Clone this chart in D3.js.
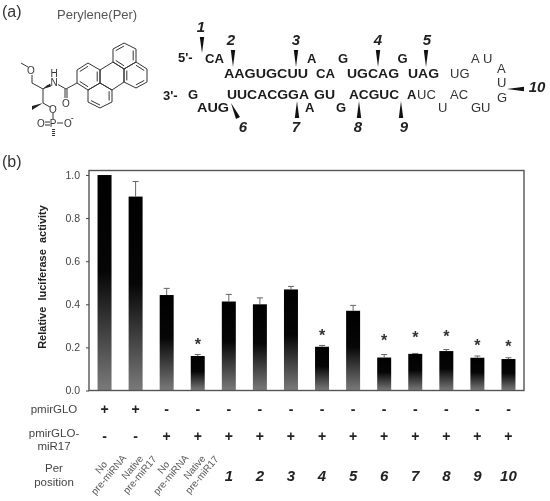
<!DOCTYPE html>
<html><head><meta charset="utf-8">
<script src="https://cdn.jsdelivr.net/npm/d3@7/dist/d3.min.js"></script>
<style>html,body{margin:0;padding:0;background:#fff}svg{display:block;filter:blur(0.4px)}text{font-family:"Liberation Sans",Arial,sans-serif}</style>
</head><body><svg id="c" width="550" height="501"></svg>
<script>
const categories = ["c1","c2","c3","c4","1","2","3","4","5","6","7","8","9","10"];
const values = [1.0,0.90,0.443,0.16,0.413,0.40,0.469,0.203,0.37,0.153,0.17,0.183,0.152,0.146];
const errorTops = [1.0,0.97,0.474,0.167,0.446,0.43,0.483,0.209,0.395,0.167,0.172,0.19,0.16,0.152];
const starLevels = [null,null,null,0.225,null,null,null,0.264,null,0.24,0.254,0.258,0.216,0.213];
const pmirGLO = ["+","+","-","-","-","-","-","-","-","-","-","-","-","-"];
const pmirGLO17 = ["-","-","+","+","+","+","+","+","+","+","+","+","+","+"];
const positions = [null,null,null,null,"1","2","3","4","5","6","7","8","9","10"];
const rotatedLabels = [["No","pre-miRNA"],["Native","pre-miR17"],["No","pre-miRNA"],["Native","pre-miR17"]];
const yTicks = [0,0.2,0.4,0.6,0.8,1.0];

const svg = d3.select("#c");
const x = d3.scaleBand().domain(categories).range([89,524]).paddingInner(0.55).paddingOuter(0.275);
const y = d3.scaleLinear().domain([0,1.021]).range([390.5,170.5]);

const grad = svg.append("defs").append("linearGradient").attr("id","g").attr("x1",0).attr("y1",0).attr("x2",0).attr("y2",1);
[[0,"#000"],[0.45,"#060606"],[1,"#7a7a7a"]].forEach(s=>grad.append("stop").attr("offset",s[0]).attr("stop-color",s[1]));

function t(g,s,px,py,o={}){
  return g.append("text").attr("x",px).attr("y",py).text(s)
   .attr("font-size",o.size||12).attr("fill",o.fill||"#333")
   .attr("font-weight",o.bold?"bold":"normal").attr("font-style",o.italic?"italic":"normal")
   .attr("text-anchor",o.anchor||"start").attr("font-family",o.family||null);
}

// ---- chart (b)
const cx = d=>x(d)+x.bandwidth()/2;
svg.append("g").selectAll("rect").data(categories).join("rect")
  .attr("x",d=>x(d)).attr("width",x.bandwidth())
  .attr("y",(d,i)=>y(values[i])).attr("height",(d,i)=>y(0)-y(values[i])).attr("fill","url(#g)");
const eb = svg.append("g").attr("stroke","#666").attr("stroke-width",1);
categories.forEach((d,i)=>{ if(errorTops[i]>values[i]){
  eb.append("line").attr("x1",cx(d)).attr("x2",cx(d)).attr("y1",y(values[i])).attr("y2",y(errorTops[i]));
  eb.append("line").attr("x1",cx(d)-3).attr("x2",cx(d)+3).attr("y1",y(errorTops[i])).attr("y2",y(errorTops[i]));
}});
svg.append("rect").attr("x",89).attr("y",170.5).attr("width",435).attr("height",220).attr("fill","none").attr("stroke","#555").attr("stroke-width",1.4);
const ax = svg.append("g").attr("transform","translate(89,0)").call(d3.axisLeft(y).tickValues(yTicks).tickSize(3).tickPadding(6).tickFormat(d3.format(".1f")));
ax.select(".domain").remove();
ax.selectAll("line").attr("stroke","#444");
ax.selectAll("text").attr("font-size",10.5).attr("fill","#444").attr("font-family",'"Liberation Sans"');
svg.append("text").attr("transform","translate(46,277) rotate(-90)").attr("text-anchor","middle")
  .attr("font-size",11).attr("font-weight","bold").attr("fill","#222").attr("xml:space","preserve").text("Relative  luciferase  activity");
categories.forEach((d,i)=>{ if(starLevels[i]!==null){
  t(svg,"*",cx(d),y(starLevels[i])+7.5,{size:16,bold:true,anchor:"middle",fill:"#333"});
}});

// ---- table under the chart
const tb = svg.append("g");
[["pmirGLO",413],["pmirGLO-",437],["miR17",450],["Per",472],["position",486]].forEach(r=>t(tb,r[0],54,r[1],{size:11.5,anchor:"middle",fill:"#444"}));
categories.forEach((d,i)=>{
  t(tb,pmirGLO[i],cx(d),414,{size:14,bold:true,anchor:"middle",fill:"#222"});
  t(tb,pmirGLO17[i],cx(d),441,{size:14,bold:true,anchor:"middle",fill:"#222"});
  if(positions[i]) t(tb,positions[i],cx(d),480.5,{size:15,bold:true,italic:true,anchor:"middle",fill:"#222"});
  else {
    const l = rotatedLabels[i];
    tb.append("g").attr("transform",`translate(${cx(d)},${470}) rotate(-50)`).call(g=>{
      t(g,l[0],0,-1,{size:9.8,anchor:"middle",fill:"#555"});
      t(g,l[1],-1,9.5,{size:9.8,anchor:"middle",fill:"#555"});
    });
  }
});

// ---- panel labels
t(svg,"(a)",2,17,{size:16,fill:"#333"});
t(svg,"(b)",2,167,{size:16,fill:"#333"});
t(svg,"Perylene(Per)",57,19,{size:13,fill:"#555"});

// ---- molecule
const mol = svg.append("g").attr("fill","none").attr("stroke","#333").attr("stroke-width",1);
const rings = [
 {p:[[113,49],[124,43],[136,49],[136,62],[124,69],[113,62]],d:[0,2,4]},
 {p:[[124,69],[136,62],[147,69],[147,82],[136,88],[124,82]],d:[1,3,5]},
 {p:[[100,70],[88,63],[77,70],[77,83],[88,90],[100,83]],d:[1,5,3]},
 {p:[[88,90],[100,83],[112,90],[112,102],[100,108],[88,102]],d:[2,4]},
 {p:[[100,70],[113,62],[124,69],[124,82],[112,90],[100,83]],d:[]}
];
const ln = d3.line();
rings.forEach(r=>{
  mol.append("path").attr("d",ln(r.p)+"Z");
  const c=[d3.mean(r.p,q=>q[0]),d3.mean(r.p,q=>q[1])];
  const inn=q=>[c[0]+(q[0]-c[0])*0.76,c[1]+(q[1]-c[1])*0.76];
  r.d.forEach(i=>mol.append("path").attr("d",ln([inn(r.p[i]),inn(r.p[(i+1)%6])])));
});
[[[77,83],[66,89]],[[65,89],[65,98]],[[67,89],[67,98]],[[66,89],[58,84.5]],[[48,85],[43,89]],[[43,89],[32,83]],[[32,83],[32,75]],[[28,67],[21,63]],
 [[43,89],[43,103]],[[43,103],[50,107]],[[53,113],[53,119]],[[45,122],[50,122]],[[45,125],[50,125]],[[57,123],[63,123]]
].forEach(s=>mol.append("path").attr("d",ln(s)));
svg.append("path").attr("d",ln([[43,89],[50,83.5],[51,86.5]])+"Z").attr("fill","#222");
svg.append("path").attr("d",ln([[43,103],[32,106],[32,110]])+"Z").attr("fill","#222");
mol.append("path").attr("d","M53.5 129V137").attr("stroke-dasharray","1 1").attr("stroke-width",3);
[["H",54,76.5,0],["N",54,86,0],["O",66,107,0],["O",31,74,0],["O",53,113,0],["O",41,127,0],["P",53,127,0],["O",68,127,0]].forEach(a=>t(svg,a[0],a[1],a[2],{size:10,anchor:"middle",fill:"#333"}));
t(svg,"-",71,120,{size:8,fill:"#333",bold:true});

// ---- RNA
const rnaBold = [
 ["5'-",178,62],["CA",205,62.5],["A",307,62.5],["G",338,62.5],["G",397.5,62.5],
 ["AAGUGCUU",224,78],["CA",316,78],["UGCAG",347,78],["UAG",408,78],
 ["3'-",163,100],["G",188,99],["UUCACGGA",227,99],["GU",314,99],["ACGUC",349,99],["A",407,99],
 ["AUG",197,112],["A",305,112],["G",336,112]
];
const rnaBoldW = {"AAGUGCUU":84,"UUCACGGA":82,"UGCAG":52,"ACGUC":50,"UAG":31,"AUG":32,"CA":19,"GU":21};
const rnaThin = [
 ["UG",450,78],["A",471,62.5],["U",483,62.5],["A",497,73],["U",497,87],["G",497,102],
 ["UC",417,99],["AC",450,99],["U",438,112],["GU",471,112]
];
const rna = svg.append("g");
rnaBold.forEach(r=>{const e=t(rna,r[0],r[1],r[2],{size:13,bold:true,fill:"#1a1a1a",family:'"Open Sans"'});
  if(rnaBoldW[r[0]]) e.attr("textLength",rnaBoldW[r[0]]).attr("lengthAdjust","spacingAndGlyphs");});
rnaThin.forEach(r=>t(rna,r[0],r[1],r[2],{size:13,fill:"#333",family:'"Open Sans"'}));

const nums = [["1",201,32],["2",231,45],["3",296,45],["4",378,45],["5",427,45],["6",243,132],["7",296,132],["8",358,132],["9",404,132],["10",537,92]];
nums.forEach(n=>t(rna,n[0],n[1],n[2],{size:15,bold:true,italic:true,anchor:"middle",fill:"#222"}));
const wedges = [ // [tipX,tipY,baseX,baseY]
 [202,53,202,37],[233,67,233,50],[296,67,296,50],[378,67,378,50],[426,67,426,50],
 [231,103,238,118],[297,101,297,118],[359,101,359,118],[401,101,401,118],[507,89,524,89]
];
wedges.forEach(w=>{
  const dx=w[2]-w[0],dy=w[3]-w[1],L=Math.hypot(dx,dy),nx=-dy/L*2.2,ny=dx/L*2.2;
  rna.append("path").attr("d",ln([[w[0],w[1]],[w[2]+nx,w[3]+ny],[w[2]-nx,w[3]-ny]])+"Z").attr("fill","#111");
});
</script></body></html>
